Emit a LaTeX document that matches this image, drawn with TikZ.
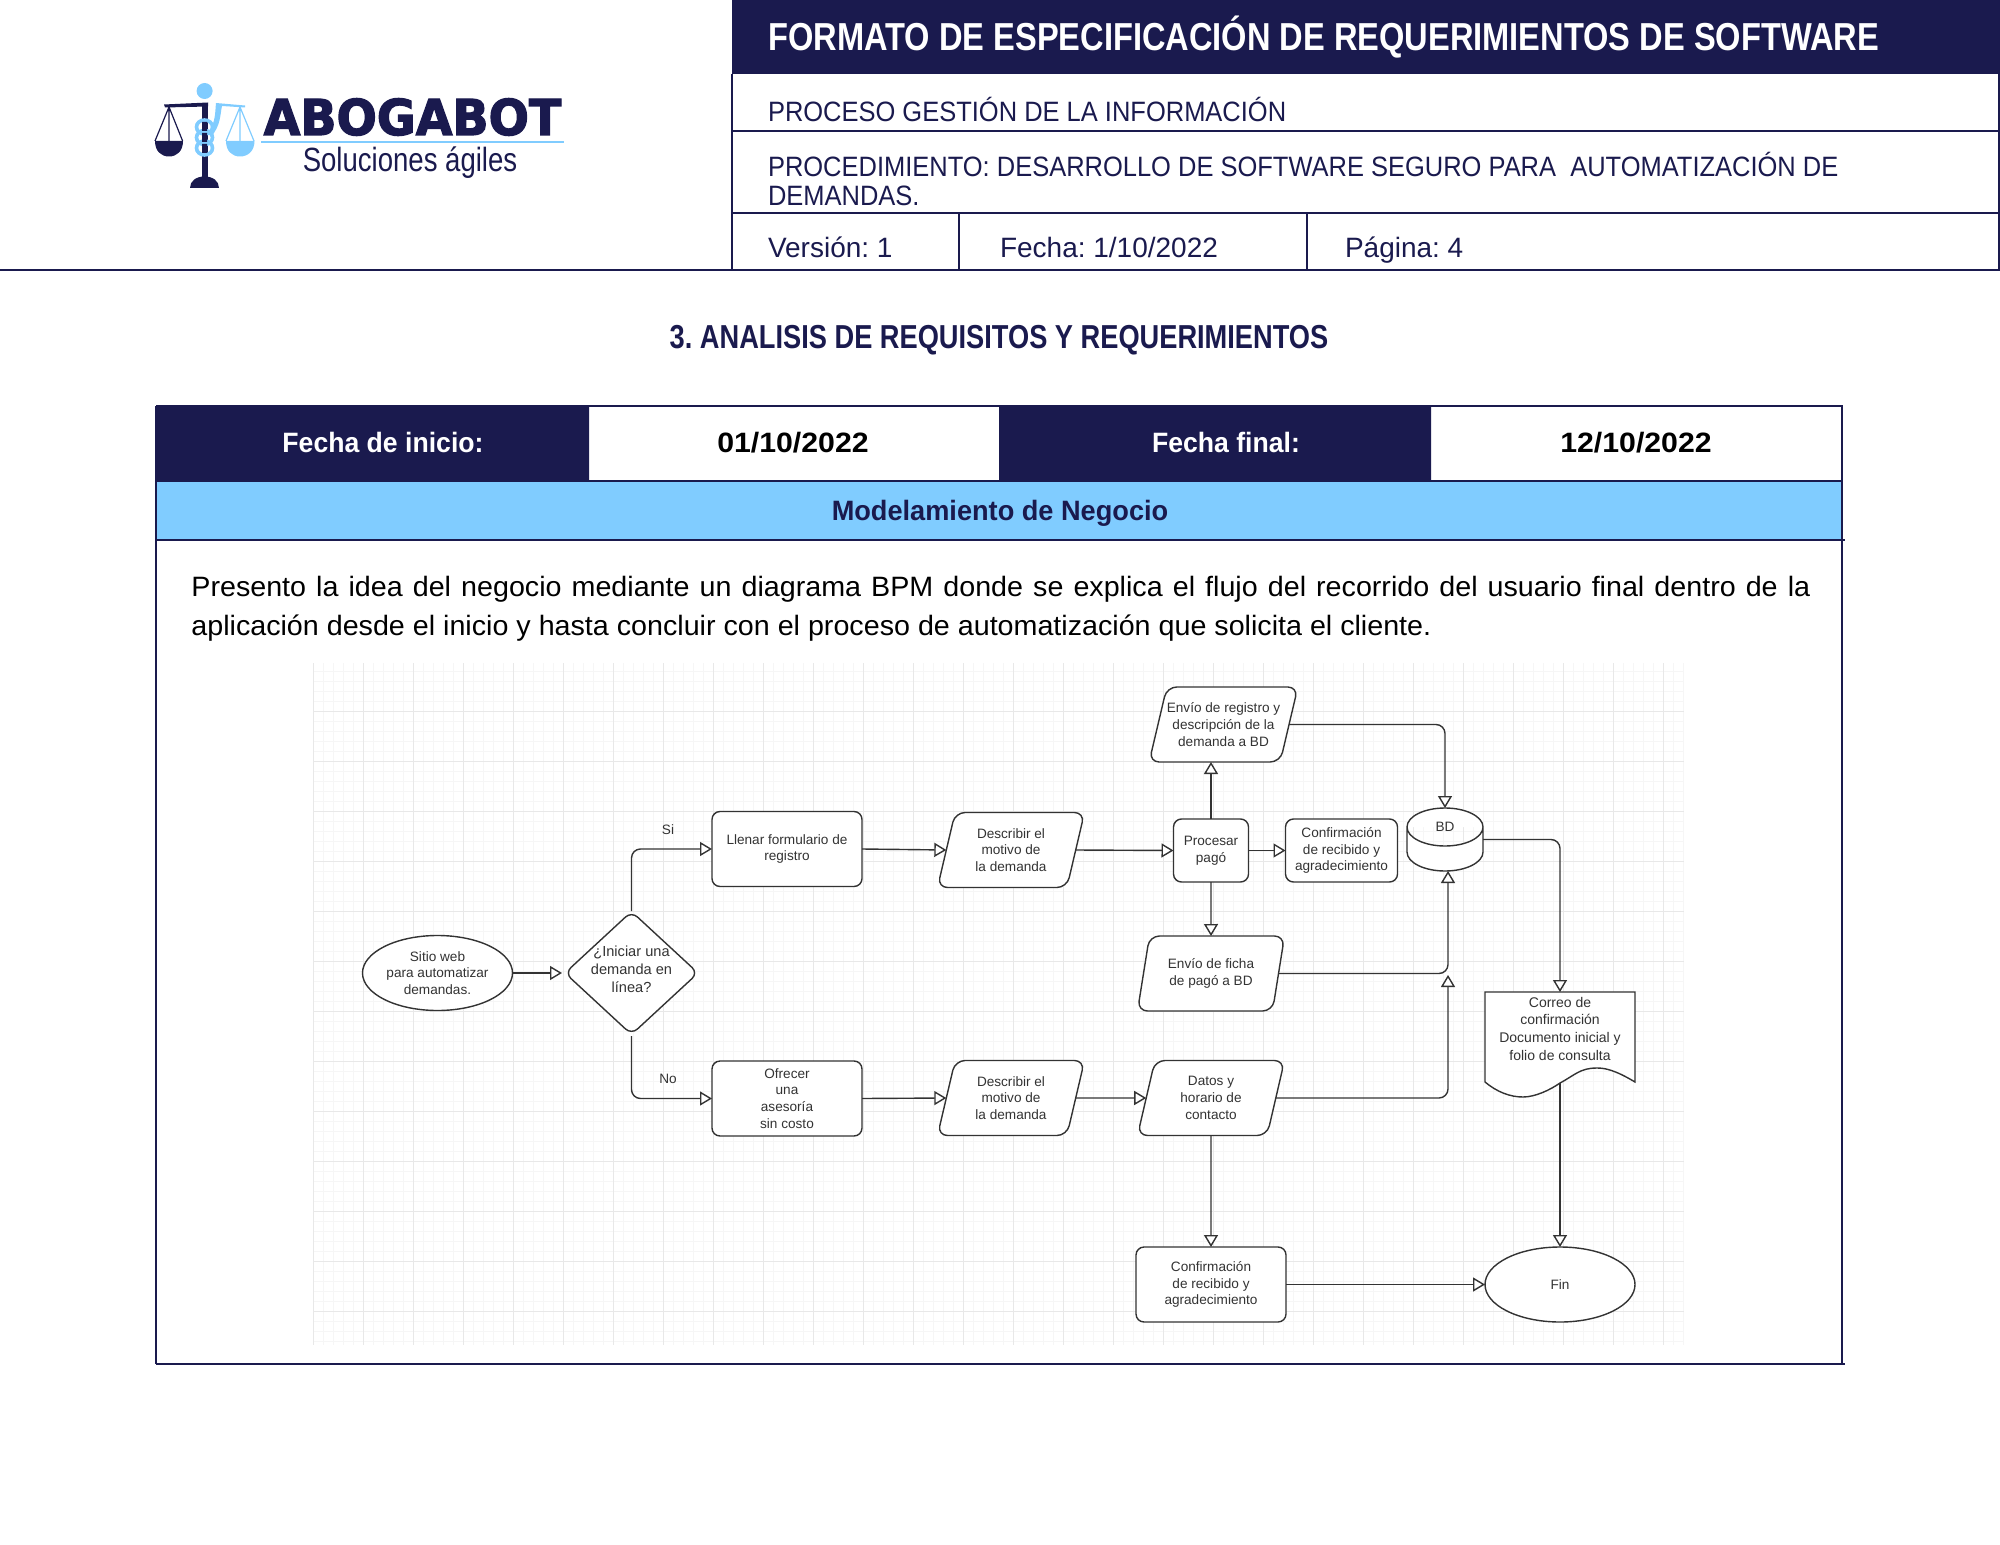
\documentclass[tikz,border=0pt]{standalone}
\usepackage{fontspec}
\usepackage{array}
\usetikzlibrary{arrows.meta,shapes.geometric}
\setmainfont{Liberation Sans}
\newfontfamily\condf[FakeStretch=0.82]{Liberation Sans}
\newfontfamily\titlef[FakeStretch=0.836]{Liberation Sans}
\newfontfamily\hdrf[FakeStretch=0.91]{Liberation Sans}
\newfontfamily\rowf[FakeStretch=1.0]{Liberation Sans}
\newfontfamily\lblf[FakeStretch=0.95]{Liberation Sans}
\newfontfamily\digf[FakeStretch=1.08]{Liberation Sans}
\newfontfamily\modf[FakeStretch=0.97]{Liberation Sans}
\newfontfamily\bodyf[FakeStretch=1.024]{Liberation Sans}
\newfontfamily\logof[FakeStretch=0.96,FakeBold=2.5]{DejaVu Sans Bold}
\definecolor{navy}{HTML}{1A1A4E}
\definecolor{sky}{HTML}{80CCFF}
\definecolor{ink}{HTML}{333333}
\definecolor{gmaj}{HTML}{E8E8E8}
\definecolor{gmin}{HTML}{F6F6F6}
\newcommand\zbox[1]{\makebox[0pt][c]{\raisebox{-1pt}{\smash{\begin{tabular}{@{}c@{}}#1\end{tabular}}}}}
\AtBeginDocument{\frenchspacing}
\tikzset{
  flowtext/.style={text=ink,font=\fontsize{6.8}{8.4}\selectfont,align=center,inner sep=0pt,outer sep=0pt},
  flowline/.style={draw=ink,line width=0.7pt,fill=white},
  rbox/.style={flowtext,flowline,rectangle,rounded corners=4pt,minimum width=75pt,minimum height=37.5pt},
  para/.style={flowtext,flowline,trapezium,trapezium left angle=68,trapezium right angle=112,trapezium stretches body,rounded corners=5pt,minimum width=73.5pt,minimum height=37.5pt},
  ell/.style={flowtext,flowline,ellipse,minimum width=75pt,minimum height=37.5pt},
  conn/.style={draw=ink,line width=0.7pt,-{Triangle[open,fill=white,length=6pt,width=7pt]}},
  elbow/.style={conn,rounded corners=4.5pt},
  hdr/.style={text=navy,inner sep=0pt,outer sep=0pt,anchor=base west,font=\hdrf\fontsize{14}{14}\selectfont},
  rowt/.style={hdr,font=\rowf\fontsize{14}{14}\selectfont},
  tbl/.style={inner sep=0pt,outer sep=0pt,anchor=base},
  rulestyle/.style={draw=navy,line width=1pt},
  gridmin/.style={draw=gmin,line width=0.4pt},
  gridmaj/.style={draw=gmaj,line width=0.5pt},
}
\begin{document}
\begin{tikzpicture}[x=0.5pt,y=-0.5pt]
\useasboundingbox (0,0) rectangle (2000,1545);
% ---------- logo
\fill[sky] (204.6,91) circle (8);
\fill[navy] (164,104.5) -- (208,102.5) -- (208,106.5) -- (165,107.5) -- cycle;
\fill[sky] (216,103) -- (245,105.5) -- (245,107.5) -- (222,106) .. controls (220,115) and (221,125) .. (211,137) -- (208,133) .. controls (216,122) and (215,112) .. (216,103) -- cycle;
\draw[navy,line width=0.6pt] (155,141) -- (169,107) -- (182.6,141) (169,107) -- (169,141);
\draw[sky,line width=0.6pt] (226,141) -- (240,107) -- (254,141) (240,107) -- (240,141);
\fill[navy] (155,141) -- (183,141) .. controls (183,151) and (177,156.5) .. (169,156.5) .. controls (161,156.5) and (155,151) .. (155,141) -- cycle;
\fill[sky] (226,141) -- (254.5,141) .. controls (254.5,151) and (248,156.5) .. (240,156.5) .. controls (232,156.5) and (226,151) .. (226,141) -- cycle;
\fill[navy] (201.5,103) rectangle (208,177);
\draw[sky,line width=1.8pt] (204.5,127) ellipse (8 and 7) (204.5,137.5) ellipse (8 and 7) (204.5,148) ellipse (8 and 7);
\fill[navy] (202,122) rectangle (207,131) (202,133) rectangle (207,142) (202,144) rectangle (207,153);
\fill[navy] (190,188) .. controls (190,181) and (196,176.5) .. (204.5,176.5) .. controls (213,176.5) and (219,181) .. (219,188) -- cycle;
\node[name=logoname,text=navy,inner sep=0pt,anchor=base,font=\logof\fontsize{24.7}{24.7}\selectfont] at (412.5,135) {ABOGABOT};
\draw[sky,line width=1pt] (261,142) -- (564,142);
\node[name=logosub,text=navy,inner sep=0pt,anchor=base,font=\condf\fontsize{16.8}{16.8}\selectfont] at (410,172) {Soluciones ágiles};
% ---------- header
\fill[navy] (732,0) rectangle (2000,74);
\node[name=title,text=white,inner sep=0pt,anchor=base west,font=\titlef\bfseries\fontsize{19.5}{19.5}\selectfont] at (768,51) {FORMATO DE ESPECIFICACIÓN DE REQUERIMIENTOS DE SOFTWARE};
\draw[rulestyle] (732,74) -- (732,270) (959,213) -- (959,270) (1307,213) -- (1307,270) (1999,74) -- (1999,270);
\draw[rulestyle] (732,131.5) -- (2000,131.5) (732,213) -- (2000,213) (0,270) -- (2000,270);
\node[hdr,name=h1] at (768,122) {PROCESO GESTIÓN DE LA INFORMACIÓN};
\node[hdr,name=h2] at (768,177) {PROCEDIMIENTO: DESARROLLO DE SOFTWARE SEGURO PARA\ \ AUTOMATIZACIÓN DE};
\node[hdr,name=h3] at (768,206) {DEMANDAS.};
\node[rowt,name=h4] at (768,258) {Versión: 1};
\node[rowt,name=h5] at (1000,258) {Fecha: 1/10/2022};
\node[rowt,name=h6] at (1345,258) {Página: 4};
\node[name=sect,text=navy,inner sep=0pt,anchor=base,font=\condf\bfseries\fontsize{16.6}{16.6}\selectfont] at (999,349) {3. ANALISIS DE REQUISITOS Y REQUERIMIENTOS};
% ---------- table
\fill[navy] (156,406) rectangle (589,481) (999,406) rectangle (1431,481);
\fill[sky] (156,481) rectangle (1843,540);
\draw[rulestyle] (156,406) -- (1843,406) (156,481) -- (1843,481) (156,540) -- (1845,540) (156,1364) -- (1845,1364);
\draw[rulestyle] (156,406) -- (156,1364) (1842,406) -- (1842,1364);
\node[tbl,text=white,name=t1,font=\lblf\bfseries\fontsize{14}{14}\selectfont] at (383,452) {Fecha de inicio:};
\node[tbl,text=black,name=t2,font=\digf\bfseries\fontsize{14}{14}\selectfont] at (793,452) {01/10/2022};
\node[tbl,text=white,name=t3,font=\lblf\bfseries\fontsize{14}{14}\selectfont] at (1226,452) {Fecha final:};
\node[tbl,text=black,name=t4,font=\digf\bfseries\fontsize{14}{14}\selectfont] at (1636,452) {12/10/2022};
\node[tbl,text=navy,name=t5,font=\modf\bfseries\fontsize{14}{14}\selectfont] at (1000,520) {Modelamiento de Negocio};
\node[name=p1,inner sep=0pt,anchor=base west,font=\bodyf\fontsize{14}{14}\selectfont] at (191,596) {\makebox[809.5pt][s]{Presento la idea del negocio mediante un diagrama BPM donde se explica el flujo del recorrido del usuario final dentro de la}};
\node[name=p2,inner sep=0pt,anchor=base west,font=\bodyf\fontsize{14}{14}\selectfont] at (191,635) {aplicación desde el inicio y hasta concluir con el proceso de automatización que solicita el cliente.};
% ---------- grid
\foreach \k in {0,...,137} {\draw[gridmin] (313.4+10*\k,663) -- (313.4+10*\k,1345);}
\foreach \k in {1,...,68} {\draw[gridmin] (313.4,661.7+10*\k) -- (1684,661.7+10*\k);}
\foreach \k in {0,...,27} {\draw[gridmaj] (313.4+50*\k,663) -- (313.4+50*\k,1345);}
\foreach \k in {1,...,13} {\draw[gridmaj] (313.4,661.7+50*\k) -- (1684,661.7+50*\k);}
% ---------- flow nodes
\node[ell,name=start] at (437.5,973) {Sitio web\\para automatizar\\demandas.};
\node[flowtext,flowline,diamond,rounded corners=4pt,aspect=1.1,minimum width=66.5pt,minimum height=61.5pt,font=\fontsize{7.3}{9}\selectfont,name=dec] at (631.5,973) {\zbox{¿Iniciar una\\demanda en\\línea?}};
\node[rbox,name=llenar] at (787,849) {Llenar formulario de\\registro};
\node[rbox,name=ofrecer] at (787,1098.5) {Ofrecer\\una\\asesoría\\sin costo};
\node[para,name=desc1] at (1011,850) {Describir el\\motivo de\\la demanda};
\node[para,name=desc2] at (1011,1098) {Describir el\\motivo de\\la demanda};
\node[para,name=envreg] at (1223.5,724.5) {Envío de registro y\\descripción de la\\demanda a BD};
\node[rbox,minimum width=37.5pt,minimum height=31.5pt,name=proc] at (1211,850.5) {Procesar\\pagó};
\node[rbox,minimum width=56pt,minimum height=31.5pt,name=conf1] at (1341.5,850.5) {Confirmación\\de recibido y\\agradecimiento};
\node[para,name=envfic] at (1211,973.5) {Envío de ficha\\de pagó a BD};
\node[para,name=datos] at (1211,1098) {Datos y\\horario de\\contacto};
\node[rbox,name=conf2] at (1211,1284.5) {Confirmación\\de recibido y\\agradecimiento};
\node[ell,name=fin] at (1560,1284.5) {Fin};
\node[rectangle,minimum width=38pt,minimum height=31.5pt,inner sep=0pt,outer sep=0pt,name=bd] at (1445,839.5) {};
\draw[flowline] (1407,827) -- (1407,852) arc[start angle=180,end angle=0,x radius=38,y radius=19] -- (1483,827) (1445,827) ellipse (38 and 19);
\node[flowtext,name=bdt] at (1445,827) {BD};
\draw[flowline] (1485,992) -- (1635,992) -- (1635,1082) .. controls (1615,1070) and (1605,1068) .. (1597,1068) .. controls (1580,1068) and (1575,1075) .. (1560,1083) .. controls (1550,1090) and (1535,1097) .. (1523,1097) .. controls (1510,1097) and (1497,1092) .. (1485,1082) -- cycle;
\node[flowtext,anchor=north,minimum width=75pt,inner ysep=2.5pt,font=\fontsize{7}{8.9}\selectfont,name=doc] at (1560,992) {Correo de\\confirmación\\Documento inicial y\\folio de consulta};
\coordinate (docout) at (1560,1083);
\coordinate (bdin) at (1448,871);
\coordinate (bdin2) at (1448,975);
\coordinate (decin) at (562,973);
\coordinate (decn) at (631.5,911);
\coordinate (decs) at (631.5,1036);
% ---------- connectors
\draw[conn] (start.east) -- (decin);
\draw[elbow] (decn) |- (llenar.west);
\draw[elbow] (decs) |- (ofrecer.west);
\node[flowtext,name=si] at (668,830) {Si};
\node[flowtext,name=no] at (668,1079) {No};
\draw[conn] (llenar.east) -- (desc1.west);
\draw[conn] (desc1.east) -- (proc.west);
\draw[conn] (proc.east) -- (conf1.west);
\draw[conn] (proc.north) -- (proc.north |- envreg.south);
\draw[conn] (proc.south) -- (envfic.north);
\draw[elbow] (envreg.east) -| (bd.north);
\draw[elbow] (envfic.east) -| (bdin);
\draw[elbow] (datos.east) -| (bdin2);
\draw[elbow] (bd.east) -| (doc.north);
\draw[conn] (docout) -- (fin.north);
\draw[conn] (ofrecer.east) -- (desc2.west);
\draw[conn] (desc2.east) -- (datos.west);
\draw[conn] (datos.south) -- (conf2.north);
\draw[conn] (conf2.east) -- (fin.west);
\end{tikzpicture}
\end{document}
